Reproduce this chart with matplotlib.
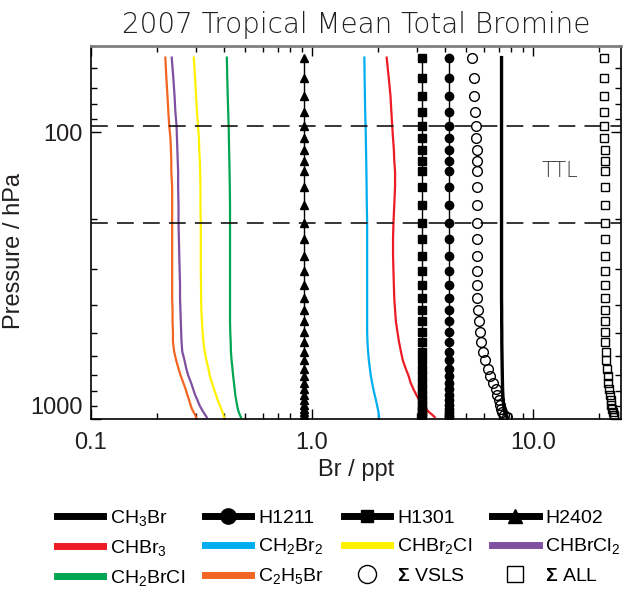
import numpy as np
import matplotlib
matplotlib.use("Agg")
import matplotlib.pyplot as plt
from matplotlib.lines import Line2D

# model levels (hPa) and bromine (ppt Br)
pres = [55, 65, 75, 85, 95, 105, 115, 126, 137, 155, 180, 207, 236, 269, 304, 340,
        378, 416, 456, 496, 538, 581, 623, 666, 706, 747, 784, 822, 856, 889, 918,
        942, 965, 983]

ch3br = [7.22, 7.22, 7.22, 7.22, 7.22, 7.22, 7.22, 7.22, 7.22, 7.22, 7.22, 7.22,
         7.22, 7.22, 7.22, 7.22, 7.22, 7.23, 7.23, 7.24, 7.24, 7.25, 7.26, 7.27,
         7.28, 7.29, 7.30, 7.32, 7.34, 7.37, 7.41, 7.46, 7.54, 7.65]
h1211 = [4.17] * 34
h1301 = [3.14] * 34
h2402 = [0.92] * 34

chbr3 = [2.18, 2.23, 2.27, 2.29, 2.31, 2.33, 2.35, 2.36, 2.38, 2.38, 2.36, 2.34,
         2.33, 2.33, 2.34, 2.35, 2.36, 2.38, 2.40, 2.44, 2.48, 2.53, 2.58, 2.66,
         2.74, 2.80, 2.88, 2.97, 3.06, 3.18, 3.28, 3.38, 3.51, 3.60]
ch2br2 = [1.728, 1.733, 1.738, 1.743, 1.750, 1.755, 1.758, 1.762, 1.765, 1.769,
          1.773, 1.779, 1.779, 1.779, 1.779, 1.779, 1.779, 1.779, 1.779, 1.779,
          1.785, 1.796, 1.811, 1.830, 1.849, 1.874, 1.898, 1.924, 1.949, 1.970,
          1.987, 2.001, 2.010, 2.016]
chbr2cl = [0.292, 0.296, 0.299, 0.302, 0.305, 0.308, 0.309, 0.311, 0.312, 0.313,
           0.313, 0.314, 0.314, 0.314, 0.314, 0.315, 0.315, 0.316, 0.318, 0.320,
           0.323, 0.327, 0.333, 0.340, 0.345, 0.353, 0.360, 0.368, 0.374, 0.382,
           0.388, 0.394, 0.397, 0.400]
chbrcl2 = [0.232, 0.236, 0.239, 0.241, 0.244, 0.245, 0.246, 0.247, 0.248, 0.248,
           0.249, 0.249, 0.250, 0.251, 0.252, 0.253, 0.253, 0.254, 0.255, 0.256,
           0.257, 0.259, 0.265, 0.270, 0.276, 0.284, 0.290, 0.296, 0.303, 0.309,
           0.316, 0.322, 0.329, 0.334]
ch2brcl = [0.412, 0.414, 0.416, 0.418, 0.420, 0.421, 0.422, 0.423, 0.424, 0.425,
           0.426, 0.426, 0.426, 0.426, 0.426, 0.426, 0.426, 0.426, 0.426, 0.427,
           0.429, 0.430, 0.433, 0.437, 0.440, 0.444, 0.447, 0.450, 0.454, 0.458,
           0.462, 0.466, 0.472, 0.477]
c2h5br = [0.217, 0.2195, 0.222, 0.224, 0.226, 0.229, 0.230, 0.231, 0.231, 0.233,
          0.233, 0.233, 0.233, 0.233, 0.233, 0.233, 0.233, 0.234, 0.234, 0.235,
          0.235, 0.238, 0.243, 0.249, 0.255, 0.262, 0.268, 0.273, 0.278, 0.282,
          0.286, 0.291, 0.296, 0.299]
sum_vsls = [5.33, 5.40, 5.44, 5.47, 5.51, 5.55, 5.57, 5.58, 5.61, 5.61, 5.61, 5.58,
            5.58, 5.58, 5.58, 5.58, 5.61, 5.66, 5.69, 5.75, 5.83, 5.95, 6.10, 6.25,
            6.43, 6.61, 6.79, 6.91, 7.00, 7.10, 7.17, 7.27, 7.43, 7.62]
sum_all = [20.9, 20.95, 21.0, 21.05, 21.1, 21.1, 21.15, 21.15, 21.2, 21.2, 21.2,
           21.2, 21.2, 21.2, 21.2, 21.22, 21.25, 21.25, 21.27, 21.3, 21.33, 21.39,
           21.45, 21.62, 21.8, 22.0, 22.2, 22.35, 22.5, 22.68, 22.9, 23.06, 23.25,
           23.4]

ttl_bounds = [95, 207]

vsls_series = [
    (chbr3, '#ED1C24', r'CHBr$_3$'),
    (ch2br2, '#00AEEF', r'CH$_2$Br$_2$'),
    (chbr2cl, '#FFF200', r'CHBr$_2$Cl'),
    (chbrcl2, '#7F4FA0', r'CHBrCl$_2$'),
    (ch2brcl, '#00A651', r'CH$_2$BrCl'),
    (c2h5br, '#F26522', r'C$_2$H$_5$Br'),
]

plt.rcParams['font.family'] = ['Liberation Sans', 'DejaVu Sans']
plt.rcParams['mathtext.fontset'] = 'custom'
plt.rcParams['mathtext.rm'] = 'Liberation Sans'
plt.rcParams['mathtext.bf'] = 'Liberation Sans:bold'

fig = plt.figure(figsize=(6.43, 5.93), dpi=100)
ax = fig.add_axes([0.1415, 0.2929, 0.8238, 0.63])

for vals, col, lab in vsls_series:
    ax.plot(vals, pres, color=col, lw=1.6)

ax.plot(ch3br, pres, color='k', lw=2.4)
ax.plot(h1211, pres, color='k', lw=1, marker='o', ms=6)
ax.plot(h1301, pres, color='k', lw=1, marker='s', ms=6)
ax.plot(h2402, pres, color='k', lw=1, marker='^', ms=6)
ax.plot(sum_vsls, pres, ls='none', marker='o', ms=7, mfc='none', mec='k', mew=1)
ax.plot(sum_all, pres, ls='none', marker='s', ms=6, mfc='none', mec='k', mew=1)

for p in ttl_bounds:
    ax.axhline(p, color='k', lw=1.1, dashes=(11, 6))
ax.text(11.0, 137, 'TTL', fontsize=15, va='center', ha='left', color='0.2',
        family='DejaVu Sans', fontweight='light')

ax.set_xscale('log')
ax.set_yscale('log')
ax.set_xlim(0.1, 25)
ax.set_ylim(1000, 50)
ax.set_xticks([0.1, 1, 10], ['0.1', '1.0', '10.0'])
ax.set_yticks([100, 1000], ['100', '1000'])
ax.yaxis.set_minor_formatter(plt.NullFormatter())
ax.xaxis.set_minor_formatter(plt.NullFormatter())
ax.tick_params(which='both', direction='in', top=True, right=True, labelsize=17,
               colors='k', labelcolor='#231F20')
ax.tick_params(which='major', length=7.5, width=1)
ax.tick_params(which='minor', length=4.5, width=1)
ax.tick_params(axis='x', pad=9)
ax.tick_params(axis='y', pad=6)
ax.get_yticklabels()[1].set_va('bottom')
for s in ['left', 'right', 'bottom']:
    ax.spines[s].set_linewidth(1.2)
ax.spines['top'].set_color('0.5')
ax.spines['top'].set_linewidth(2)

ax.set_xlabel('Br / ppt', fontsize=17, labelpad=4, color='#231F20')
ax.set_ylabel('Pressure / hPa', fontsize=17, color='#231F20')
ax.yaxis.set_label_coords(-0.125, 0.45)
ax.set_title('2007 Tropical Mean Total Bromine', fontsize=20, pad=9,
             family='DejaVu Sans', fontweight='light', color='#231F20')

# legend, filled row by row
row1 = [
    Line2D([], [], color='k', lw=5, label=r'CH$_3$Br'),
    Line2D([], [], color='k', lw=5, marker='o', ms=11, label='H1211'),
    Line2D([], [], color='k', lw=5, marker='s', ms=9, label='H1301'),
    Line2D([], [], color='k', lw=5, marker='^', ms=10, label='H2402'),
]
row2 = [Line2D([], [], color=c, lw=5, label=l) for v, c, l in vsls_series[:4]]
row3 = [Line2D([], [], color=c, lw=5, label=l) for v, c, l in vsls_series[4:]]
row3 += [
    Line2D([], [], ls='none', marker='o', ms=13, mfc='none', mec='k', mew=1,
           label=r'$\mathbf{\Sigma}$ VSLS'),
    Line2D([], [], ls='none', marker='s', ms=11, mfc='none', mec='k', mew=1,
           label=r'$\mathbf{\Sigma}$ ALL'),
]
handles = []
for i in range(4):
    handles += [row1[i], row2[i], row3[i]]
fig.legend(handles=handles, loc='upper left', bbox_to_anchor=(0.088, 0.143),
           ncol=4, frameon=False, fontsize=14, handlelength=2.4,
           handletextpad=0.35, columnspacing=1.0, labelspacing=0.5, borderpad=0,
           borderaxespad=0)

fig.savefig('out.png', dpi=100)
